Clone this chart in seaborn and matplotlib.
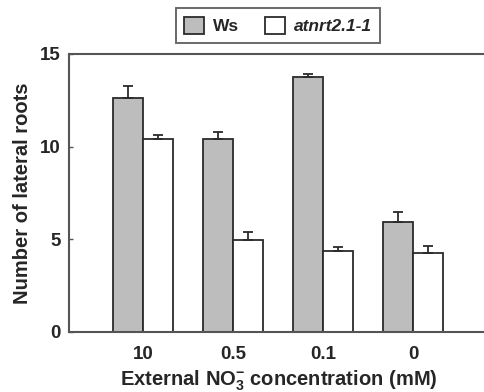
import matplotlib
matplotlib.use("Agg")
import matplotlib.pyplot as plt
import seaborn as sns
import pandas as pd

# ---- data ----
concentrations = ["10", "0.5", "0.1", "0"]
genotypes = ["Ws", "atnrt2.1-1"]
ws_means = [12.6, 10.4, 13.75, 5.95]
ws_err = [0.7, 0.38, 0.15, 0.5]
mut_means = [10.4, 4.98, 4.38, 4.25]
mut_err = [0.25, 0.42, 0.22, 0.37]
y_ticks = [0, 5, 10, 15]

sns.set_theme(style="white")
plt.rcParams["font.family"] = ["Liberation Sans", "DejaVu Sans"]
plt.rcParams["font.weight"] = "bold"
plt.rcParams["mathtext.fontset"] = "custom"
plt.rcParams["mathtext.rm"] = "Liberation Sans:bold"
plt.rcParams["mathtext.bf"] = "Liberation Sans:bold"
plt.rcParams["mathtext.it"] = "Liberation Sans:bold:italic"

df = pd.DataFrame({
    "conc": concentrations * 2,
    "genotype": [genotypes[0]] * 4 + [genotypes[1]] * 4,
    "value": ws_means + mut_means,
})
errs = ws_err + mut_err

fig = plt.figure(figsize=(4.85, 3.92), dpi=100)
ax = fig.add_axes([69 / 485, 60 / 392, 418.7 / 485, 278 / 392])

edge = "#2b2b2b"
sns.barplot(data=df, x="conc", y="value", hue="genotype", order=concentrations,
            hue_order=genotypes, palette={"Ws": "#bdbdbd", "atnrt2.1-1": "white"},
            width=0.667, gap=0, edgecolor=edge, linewidth=1.3, errorbar=None,
            ax=ax, legend=True)

# error bars (upper only), positioned from the bars the library drew
bars = [p for p in ax.patches if p.get_height() > 0][:8]
for p, e in zip(bars, errs):
    xc = p.get_x() + p.get_width() / 2
    ax.errorbar(xc, p.get_height(), yerr=[[0], [e]], fmt="none", ecolor=edge,
                elinewidth=1.3, capsize=3.5, capthick=1.3, zorder=3)

ax.set_xlim(-0.827, 3.827)
ax.set_ylim(0, 15)
ax.set_yticks(y_ticks)
ax.set_yticklabels([str(t) for t in y_ticks])
for s in ax.spines.values():
    s.set_color("#555555")
    s.set_linewidth(1.5)
ax.tick_params(axis="y", direction="in", length=3, width=1, color="#555555",
               right=True, left=True, labelsize=13.5, pad=6)
ax.tick_params(axis="x", length=0, labelsize=13.5, pad=10)
for lab in ax.get_xticklabels() + ax.get_yticklabels():
    lab.set_fontweight("bold")
ax.set_ylabel("Number of lateral roots", fontsize=14.5, fontweight="bold", labelpad=6)
ax.set_xlabel(r"External NO$_\mathbf{3}^{\mathbf{-}}$ concentration (mM)",
              fontsize=14.5, fontweight="bold", labelpad=4)

handles, labels = ax.get_legend_handles_labels()
ax.get_legend().remove()
leg = fig.legend(handles, labels, loc="center", ncol=2,
                 bbox_to_anchor=(278 / 485, 1 - 25.5 / 392),
                 frameon=True, fancybox=False, edgecolor="#444444",
                 fontsize=12.5, handlelength=1.15, handleheight=1.15,
                 handletextpad=0.5, columnspacing=1.5, borderpad=0.5)
leg.get_frame().set_linewidth(1.4)
for t in leg.get_texts():
    t.set_fontweight("bold")
leg.get_texts()[1].set_fontstyle("italic")

fig.savefig("out.png", dpi=100)
